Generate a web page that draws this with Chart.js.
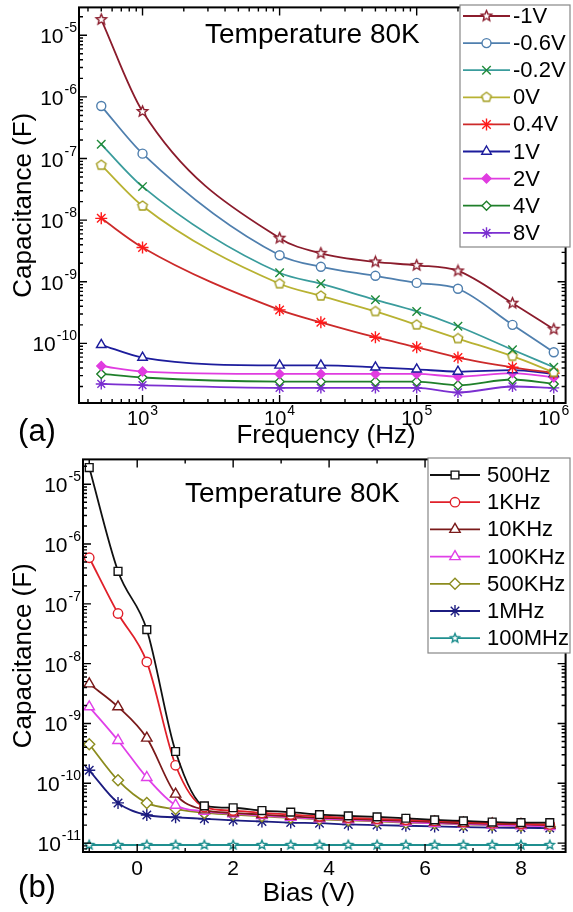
<!DOCTYPE html>
<html>
<head>
<meta charset="utf-8">
<title>Capacitance at 80K</title>
<script src="https://cdn.jsdelivr.net/npm/chart.js"></script>
<style>
    body { margin: 0; background: #fff; }
    canvas { display: block; }
</style>
</head>
<body>
<canvas id="freqChart" width="573" height="452"></canvas>
<canvas id="biasChart" width="573" height="460"></canvas>
<script>
// ---- panel (a): capacitance vs frequency, one curve per bias ----
const freqs = [500, 1e3, 1e4, 2e4, 5e4, 1e5, 2e5, 5e5, 1e6];
const biasNames = ['-1V', '-0.6V', '-0.2V', '0V', '0.4V', '1V', '2V', '4V', '8V'];
const capM1V   = [1.8e-5, 5.8e-7, 5.1e-9, 2.9e-9, 2.1e-9, 1.85e-9, 1.5e-9, 4.5e-10, 1.7e-10];
const capM06V  = [7.1e-7, 1.2e-7, 2.7e-9, 1.75e-9, 1.25e-9, 9.6e-10, 7.7e-10, 2.0e-10, 7.2e-11];
const capM02V  = [1.7e-7, 3.5e-8, 1.4e-9, 9.3e-10, 5.1e-10, 3.3e-10, 1.9e-10, 7.9e-11, 4.1e-11];
const cap0V    = [7.8e-8, 1.7e-8, 9.3e-10, 5.9e-10, 3.3e-10, 2.0e-10, 1.2e-10, 6.2e-11, 3.4e-11];
const cap04V   = [1.07e-8, 3.6e-9, 3.5e-10, 2.2e-10, 1.26e-10, 8.7e-11, 5.9e-11, 4.1e-11, 3.3e-11];
const cap1V    = [9.5e-11, 5.9e-11, 4.4e-11, 4.4e-11, 4.1e-11, 3.8e-11, 3.5e-11, 3.7e-11, 3.2e-11];
const cap2V    = [4.3e-11, 3.5e-11, 3.2e-11, 3.2e-11, 3.2e-11, 3.2e-11, 2.9e-11, 3.3e-11, 2.8e-11];
const cap4V    = [3.2e-11, 2.8e-11, 2.4e-11, 2.4e-11, 2.4e-11, 2.4e-11, 2.1e-11, 2.6e-11, 2.2e-11];
const cap8V    = [2.2e-11, 2.1e-11, 1.9e-11, 1.9e-11, 1.9e-11, 1.9e-11, 1.6e-11, 2.0e-11, 1.9e-11];

// ---- panel (b): capacitance vs bias, one curve per frequency ----
const biasV = [-1, -0.4, 0.2, 0.8, 1.4, 2, 2.6, 3.2, 3.8, 4.4, 5, 5.6, 6.2, 6.8, 7.4, 8, 8.6];
const freqNames = ['500Hz', '1KHz', '10KHz', '100KHz', '500KHz', '1MHz', '100MHz'];
const cap500Hz  = [1.9e-5, 3.5e-7, 3.7e-8, 3.4e-10, 4.2e-11, 3.9e-11, 3.5e-11, 3.3e-11, 3.0e-11, 2.85e-11, 2.75e-11, 2.6e-11, 2.45e-11, 2.35e-11, 2.25e-11, 2.2e-11, 2.2e-11];
const cap1KHz   = [5.9e-7, 6.9e-8, 1.07e-8, 2.0e-10, 4.0e-11, 3.5e-11, 3.2e-11, 3.0e-11, 2.8e-11, 2.65e-11, 2.55e-11, 2.45e-11, 2.35e-11, 2.25e-11, 2.15e-11, 2.1e-11, 2.05e-11];
const cap10KHz  = [4.6e-9, 1.9e-9, 5.7e-10, 6.6e-11, 3.6e-11, 3.2e-11, 3.0e-11, 2.8e-11, 2.65e-11, 2.55e-11, 2.45e-11, 2.35e-11, 2.25e-11, 2.15e-11, 2.1e-11, 2.05e-11, 2.0e-11];
const cap100KHz = [1.9e-9, 5.2e-10, 1.25e-10, 4.3e-11, 3.4e-11, 3.1e-11, 2.9e-11, 2.7e-11, 2.55e-11, 2.45e-11, 2.35e-11, 2.25e-11, 2.15e-11, 2.1e-11, 2.0e-11, 1.95e-11, 1.9e-11];
const cap500KHz = [4.5e-10, 1.12e-10, 4.7e-11, 3.7e-11, 3.2e-11, 3.0e-11, 2.8e-11, 2.65e-11, 2.5e-11, 2.4e-11, 2.3e-11, 2.2e-11, 2.15e-11, 2.05e-11, 2.0e-11, 1.95e-11, 1.9e-11];
const cap1MHz   = [1.65e-10, 4.7e-11, 2.95e-11, 2.7e-11, 2.55e-11, 2.4e-11, 2.3e-11, 2.2e-11, 2.15e-11, 2.05e-11, 2.0e-11, 1.95e-11, 1.9e-11, 1.85e-11, 1.82e-11, 1.8e-11, 1.78e-11];
const cap100MHz = [9.3e-12, 9.3e-12, 9.3e-12, 9.3e-12, 9.3e-12, 9.3e-12, 9.3e-12, 9.3e-12, 9.3e-12, 9.3e-12, 9.3e-12, 9.3e-12, 9.3e-12, 9.3e-12, 9.3e-12, 9.3e-12, 9.3e-12];

const FONT = '"Liberation Sans", Arial, sans-serif';

// open star / pentagon markers are not built in, so make small canvases
function polyMarker(kind, color, r, fill) {
    const s = Math.ceil(r * 2 + 4);
    const c = document.createElement('canvas');
    c.width = c.height = s;
    const g = c.getContext('2d');
    g.translate(s / 2, s / 2);
    g.beginPath();
    const n = kind === 'star' ? 10 : 5;
    for (let i = 0; i < n; i++) {
        const ang = -Math.PI / 2 + i * 2 * Math.PI / n;
        const rr = (kind === 'star' && i % 2) ? r * 0.45 : r;
        g.lineTo(rr * Math.cos(ang), rr * Math.sin(ang));
    }
    g.closePath();
    g.fillStyle = fill || '#fff';
    g.fill();
    g.lineWidth = 1.4;
    g.strokeStyle = color;
    g.stroke();
    return c;
}

function logTicks(min, max) {
    const out = [];
    for (let e = Math.floor(Math.log10(min)); e <= Math.ceil(Math.log10(max)); e++) {
        for (let k = 1; k < 10; k++) {
            const v = k * Math.pow(10, e);
            if (v >= min && v <= max) out.push({ v: v, major: k === 1, e: e });
        }
    }
    return out;
}

// "10" with a raised exponent
function powLabel(ctx, e, x, y, align, size, rise) {
    const ex = String(e);
    ctx.font = size + 'px ' + FONT;
    const wb = ctx.measureText('10').width;
    ctx.font = Math.round(size * 0.68) + 'px ' + FONT;
    const we = ctx.measureText(ex).width;
    const x0 = align === 'right' ? x - wb - we - 1 : x - (wb + we + 1) / 2;
    ctx.textAlign = 'left';
    ctx.textBaseline = 'alphabetic';
    ctx.font = size + 'px ' + FONT;
    ctx.fillText('10', x0, y);
    ctx.font = Math.round(size * 0.68) + 'px ' + FONT;
    ctx.fillText(ex, x0 + wb + 1, y - rise);
}

function drawText(ctx, txt, x, y, size, align, baseline, rot) {
    ctx.save();
    ctx.translate(x, y);
    if (rot) ctx.rotate(rot);
    ctx.font = size + 'px ' + FONT;
    ctx.textAlign = align;
    ctx.textBaseline = baseline;
    ctx.fillText(txt, 0, 0);
    ctx.restore();
}

// frame, inward ticks, tick labels, titles and legend
const decor = {
    id: 'decor',
    afterDraw(chart, args, o) {
        const ctx = chart.ctx, a = chart.chartArea;
        const xs = chart.scales.x, ys = chart.scales.y;
        ctx.save();
        ctx.strokeStyle = '#000';
        ctx.fillStyle = '#000';
        ctx.lineWidth = 1.4;
        ctx.beginPath();
        o.xTicks.forEach(t => {
            const px = xs.getPixelForValue(t.v), len = t.major ? 8 : 4;
            ctx.moveTo(px, a.bottom); ctx.lineTo(px, a.bottom - len);
            ctx.moveTo(px, a.top); ctx.lineTo(px, a.top + len);
        });
        o.yTicks.forEach(t => {
            const py = ys.getPixelForValue(t.v), len = t.major ? 8 : 4;
            ctx.moveTo(a.left, py); ctx.lineTo(a.left + len, py);
            ctx.moveTo(a.right, py); ctx.lineTo(a.right - len, py);
        });
        ctx.stroke();
        ctx.lineWidth = 2;
        ctx.strokeRect(a.left, a.top, a.right - a.left, a.bottom - a.top);

        // tick labels
        o.yTicks.filter(t => t.major).forEach(t => {
            powLabel(ctx, t.e, a.left - 2, ys.getPixelForValue(t.v) + 8, 'right', 21, 11);
        });
        o.xTicks.filter(t => t.major).forEach(t => {
            const px = xs.getPixelForValue(t.v);
            if (o.xLog) powLabel(ctx, t.e, px, o.xLabelY, 'center', 20, 10);
            else drawText(ctx, String(t.v), px, o.xLabelY, 21, 'center', 'alphabetic');
        });

        // titles
        drawText(ctx, 'Capacitance (F)', 24, (a.top + a.bottom) / 2, 26, 'center', 'middle', -Math.PI / 2);
        drawText(ctx, o.xTitle, o.xTitleX, o.xTitleY, 26, 'center', 'alphabetic');
        drawText(ctx, o.panel, 37, o.panelY, 31, 'center', 'middle');
        drawText(ctx, 'Temperature 80K', o.tempX, o.tempY, 28, 'left', 'alphabetic');

        // legend with line + marker samples
        const L = o.legend;
        ctx.fillStyle = '#fff';
        ctx.fillRect(L.x0, L.y0, L.x1 - L.x0, L.y1 - L.y0);
        ctx.strokeStyle = '#888';
        ctx.lineWidth = 1.2;
        ctx.strokeRect(L.x0, L.y0, L.x1 - L.x0, L.y1 - L.y0);
        chart.data.datasets.forEach((ds, i) => {
            const y = L.first + i * L.step;
            ctx.strokeStyle = ds.borderColor;
            ctx.lineWidth = ds.borderWidth;
            ctx.beginPath();
            ctx.moveTo(L.lx0, y); ctx.lineTo(L.lx1, y);
            ctx.stroke();
            ctx.fillStyle = ds.pointBackgroundColor;
            ctx.strokeStyle = ds.pointBorderColor;
            ctx.lineWidth = ds.pointBorderWidth;
            Chart.helpers.drawPoint(ctx, {
                pointStyle: ds.pointStyle, radius: ds.pointRadius,
                rotation: 0, borderWidth: ds.pointBorderWidth
            }, (L.lx0 + L.lx1) / 2, y);
            ctx.fillStyle = '#000';
            drawText(ctx, ds.label, L.tx, y + 1, 22, 'left', 'middle');
        });
        ctx.restore();
    }
};

function series(xs, ys) {
    return xs.map((x, i) => ({ x: x, y: ys[i] }));
}

function makeSet(label, xs, ys, line, mark, style, radius, fill) {
    return {
        label: label,
        data: series(xs, ys),
        borderColor: line,
        borderWidth: 1.8,
        pointBorderColor: mark,
        pointBackgroundColor: fill || '#fff',
        pointBorderWidth: 1.4,
        pointStyle: style,
        pointRadius: radius,
        cubicInterpolationMode: 'monotone'
    };
}

const freqSets = [
    makeSet(biasNames[0], freqs, capM1V, '#8b1c2c', '#8b1c2c', polyMarker('star', '#8b1c2c', 5.5), 5.5),
    makeSet(biasNames[1], freqs, capM06V, '#4f7fae', '#4f7fae', 'circle', 4.5),
    makeSet(biasNames[2], freqs, capM02V, '#3a9c9c', '#1f8a3a', 'crossRot', 6),
    makeSet(biasNames[3], freqs, cap0V, '#b8b232', '#a39d1e', polyMarker('pent', '#a39d1e', 5), 5),
    makeSet(biasNames[4], freqs, cap04V, '#cc2a2a', '#ff1a1a', 'star', 6),
    makeSet(biasNames[5], freqs, cap1V, '#1c1c9c', '#1c1c9c', 'triangle', 5.5),
    makeSet(biasNames[6], freqs, cap2V, '#e03ce0', '#e03ce0', 'rectRot', 4.5, '#e03ce0'),
    makeSet(biasNames[7], freqs, cap4V, '#1f7f2a', '#1f7f2a', 'rectRot', 4.5),
    makeSet(biasNames[8], freqs, cap8V, '#7b2fd0', '#7b2fd0', 'star', 5.5)
];

const biasSets = [
    makeSet(freqNames[0], biasV, cap500Hz, '#111', '#111', 'rect', 5.5),
    makeSet(freqNames[1], biasV, cap1KHz, '#e0202a', '#e0202a', 'circle', 4.7),
    makeSet(freqNames[2], biasV, cap10KHz, '#7a1a1a', '#7a1a1a', 'triangle', 6),
    makeSet(freqNames[3], biasV, cap100KHz, '#e040e8', '#e040e8', 'triangle', 6),
    makeSet(freqNames[4], biasV, cap500KHz, '#8c8c1e', '#8c8c1e', 'rectRot', 5.5),
    makeSet(freqNames[5], biasV, cap1MHz, '#1c1c80', '#1c1c80', 'star', 6),
    makeSet(freqNames[6], biasV, cap100MHz, '#1f8f8f', '#1f8f8f', polyMarker('star', '#1f8f8f', 4.8), 4.8)
];

function baseOptions(xCfg, yCfg, xAxisH, yAxisW, decorOpts) {
    return {
        responsive: false,
        animation: false,
        devicePixelRatio: 1,
        layout: { padding: { top: 5, right: 3, left: 0, bottom: 0 } },
        plugins: { legend: { display: false }, tooltip: { enabled: false }, decor: decorOpts },
        scales: {
            x: Object.assign({
                grid: { display: false }, border: { display: false }, ticks: { display: false },
                afterFit: s => { s.height = xAxisH; }
            }, xCfg),
            y: Object.assign({
                grid: { display: false }, border: { display: false }, ticks: { display: false },
                afterFit: s => { s.width = yAxisW; }
            }, yCfg)
        }
    };
}

const fMin = 344, fMax = 1.22e6, caMin = 1.08e-11, caMax = 2.83e-5;
new Chart(document.getElementById('freqChart'), {
    type: 'line',
    data: { datasets: freqSets },
    options: baseOptions(
        { type: 'logarithmic', min: fMin, max: fMax },
        { type: 'logarithmic', min: caMin, max: caMax },
        49, 79,
        {
            xTicks: logTicks(fMin, fMax), yTicks: logTicks(caMin, caMax), xLog: true,
            xLabelY: 425, xTitle: 'Frequency (Hz)', xTitleX: 326, xTitleY: 443,
            panel: '(a)', panelY: 432, tempX: 205, tempY: 43,
            legend: { x0: 460, y0: 5, x1: 570, y1: 247, first: 16, step: 27.1, lx0: 463, lx1: 510, tx: 513 }
        }
    ),
    plugins: [decor]
});

const bMin = -1.13, bMax = 8.93, cbMin = 7.1e-12, cbMax = 2.6e-5;
const biasTicks = [-1, 0, 1, 2, 3, 4, 5, 6, 7, 8].map(v => ({ v: v, major: v % 2 === 0 }));
new Chart(document.getElementById('biasChart'), {
    type: 'line',
    data: { datasets: biasSets },
    options: baseOptions(
        { type: 'linear', min: bMin, max: bMax },
        { type: 'logarithmic', min: cbMin, max: cbMax },
        60, 83,
        {
            xTicks: biasTicks, yTicks: logTicks(cbMin, cbMax), xLog: false,
            xLabelY: 423, xTitle: 'Bias (V)', xTitleX: 309, xTitleY: 449,
            panel: '(b)', panelY: 436, tempX: 185, tempY: 50,
            legend: { x0: 428, y0: 6, x1: 570, y1: 201, first: 23, step: 27.2, lx0: 430, lx1: 480, tx: 487 }
        }
    ),
    plugins: [decor]
});
</script>
</body>
</html>
